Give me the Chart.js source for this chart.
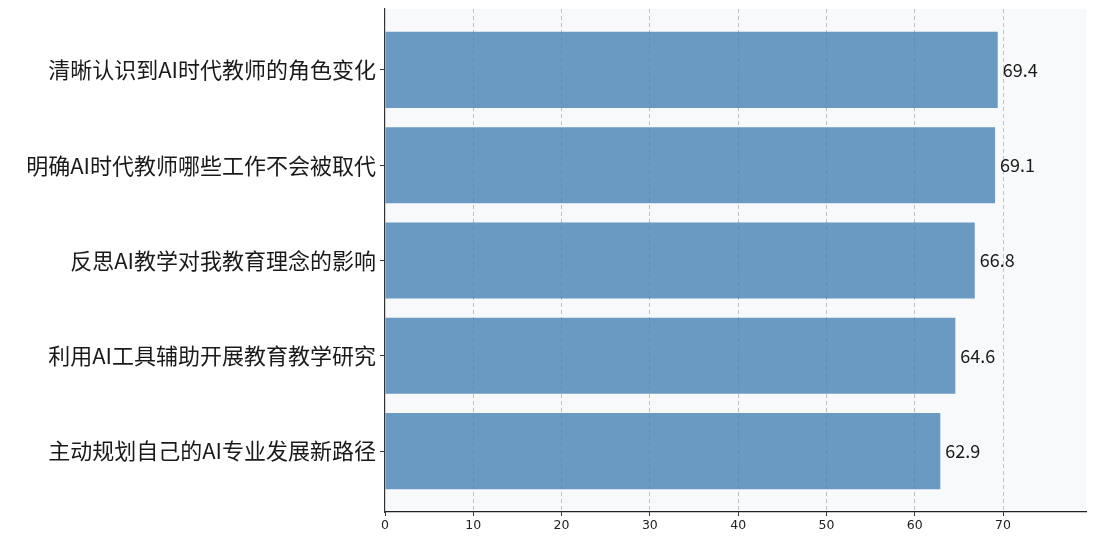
<!DOCTYPE html>
<html>
<head>
<meta charset="utf-8">
<script src="https://cdn.jsdelivr.net/npm/chart.js@4/dist/chart.umd.min.js"></script>
<style>
html,body{margin:0;padding:0;background:#fff;}
#wrap{width:1096px;height:543px;position:relative;}
</style>
</head>
<body>
<div id="wrap"><canvas id="c" width="1096" height="543"></canvas></div>
<script>
const categories = [
  "清晰认识到AI时代教师的角色变化",
  "明确AI时代教师哪些工作不会被取代",
  "反思AI教学对我教育理念的影响",
  "利用AI工具辅助开展教育教学研究",
  "主动规划自己的AI专业发展新路径"
];
const values = [69.4, 69.1, 66.8, 64.6, 62.9];
const xTicks = [0, 10, 20, 30, 40, 50, 60, 70];

const catFont = '"Noto Sans CJK SC", "Noto Sans", sans-serif';

const plotBg = {
  id: 'plotBg',
  beforeDraw(chart) {
    const {ctx, chartArea: a} = chart;
    ctx.save();
    ctx.fillStyle = '#f8f9fa';
    ctx.fillRect(a.left, a.top, a.right - a.left, a.bottom - a.top);
    ctx.restore();
  }
};

const valueLabels = {
  id: 'valueLabels',
  afterDatasetsDraw(chart) {
    const {ctx} = chart;
    const meta = chart.getDatasetMeta(0);
    ctx.save();
    ctx.font = '18px ' + catFont;
    ctx.fillStyle = '#1a1a1a';
    ctx.textAlign = 'left';
    ctx.textBaseline = 'middle';
    meta.data.forEach((bar, i) => {
      ctx.fillText(values[i].toFixed(1), bar.x + 5, bar.y);
    });
    ctx.restore();
  }
};

new Chart(document.getElementById('c'), {
  type: 'bar',
  data: {
    datasets: [{
      data: values.map((v, i) => ({x: v, y: i})),
      backgroundColor: 'rgba(70,130,180,0.8)',
      borderWidth: 0,
      barPercentage: 0.8,
      categoryPercentage: 1.0
    }]
  },
  options: {
    indexAxis: 'y',
    responsive: false,
    animation: false,
    devicePixelRatio: 1,
    layout: {padding: {top: 9, right: 10, left: 0, bottom: 0}},
    plugins: {legend: {display: false}, tooltip: {enabled: false}},
    scales: {
      x: {
        type: 'linear',
        min: 0,
        max: 79.4,
        afterBuildTicks(scale) { scale.ticks = xTicks.map(v => ({value: v})); },
        afterFit(scale) { scale.height = 31; scale.paddingRight = 0; scale.paddingLeft = 0; },
        border: {display: true, color: '#222', width: 1.2, dash: [4, 3]},
        grid: {
          display: true,
          color: c => (c.tick && c.tick.value === 0) ? 'rgba(0,0,0,0)' : 'rgba(170,170,170,0.7)',
          lineWidth: 1,
          drawTicks: true,
          tickLength: 4,
          tickColor: '#333'
        },
        ticks: {
          color: '#222',
          font: {family: '"DejaVu Sans"', size: 12.5},
          padding: 2,
          maxRotation: 0,
          callback: v => String(v)
        }
      },
      y: {
        type: 'linear',
        offset: false,
        min: -0.64,
        max: 4.64,
        reverse: true,
        afterBuildTicks(scale) { scale.ticks = categories.map((c, i) => ({value: i})); },
        afterFit(scale) { scale.width = 385; scale.paddingTop = 0; scale.paddingBottom = 0; },
        border: {display: true, color: '#333', width: 1.2},
        grid: {display: true, offset: false, drawOnChartArea: false, drawTicks: true, tickLength: 5, color: '#333', lineWidth: 1},
        ticks: {
          color: '#1a1a1a',
          font: {family: catFont, size: 22},
          padding: 4,
          autoSkip: false,
          callback: v => categories[v] !== undefined ? categories[v] : ''
        }
      }
    }
  },
  plugins: [plotBg, valueLabels]
});
</script>
</body>
</html>
